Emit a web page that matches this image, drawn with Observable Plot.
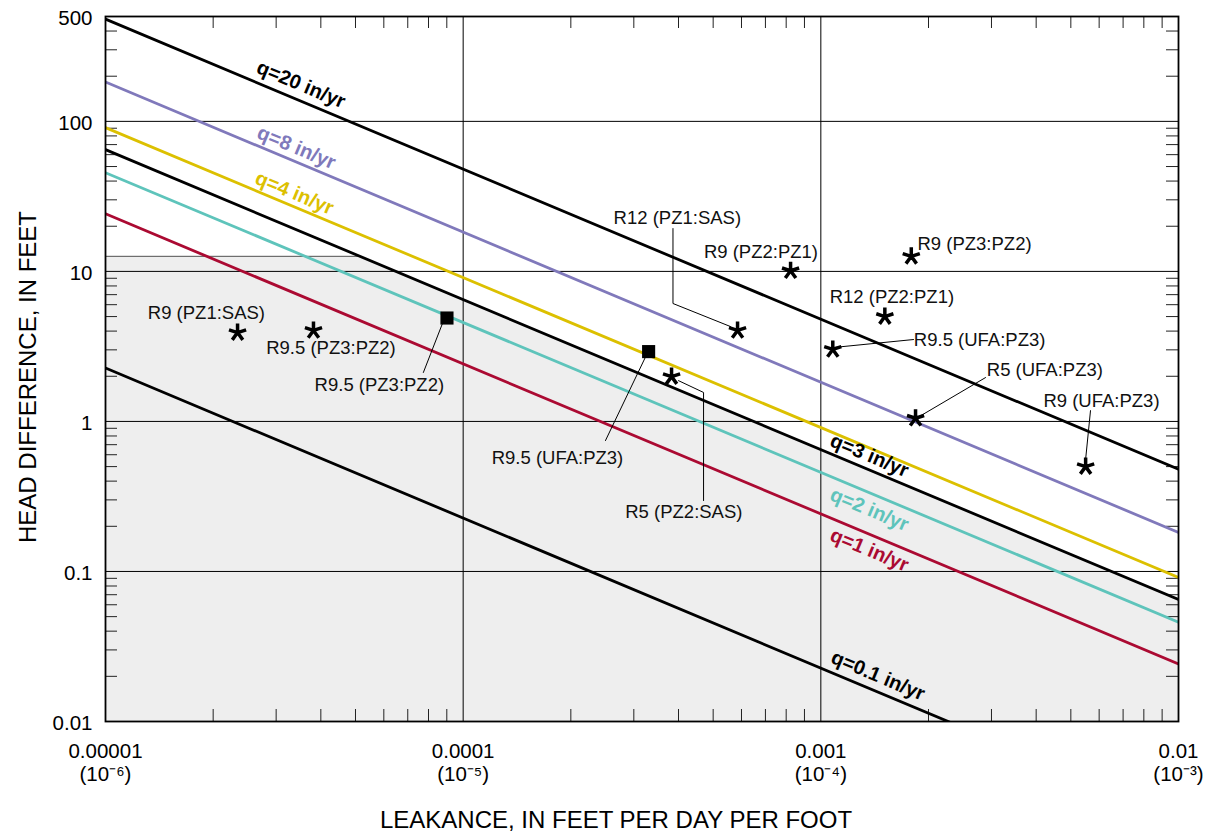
<!DOCTYPE html>
<html><head><meta charset="utf-8">
<script src="https://cdn.jsdelivr.net/npm/d3@7"></script>
<script src="https://cdn.jsdelivr.net/npm/@observablehq/plot@0.6"></script>
<style>body{margin:0;background:#fff} #chart svg{font-family:"Liberation Sans",Arial,sans-serif;background:#fff}</style>
</head><body><div id="chart"></div>
<script>
// ---- Data ----
const qNames      = ["q=20 in/yr","q=8 in/yr","q=4 in/yr","q=3 in/yr","q=2 in/yr","q=1 in/yr","q=0.1 in/yr"];
const qHeadLeft   = [480, 183, 90.8, 64.8, 45.5, 24.2, 2.27];          // head at leakance 1e-5
const qHeadRight  = [0.48, 0.182, 0.0912, 0.065, 0.0459, 0.0242, 0.00227]; // head at leakance 1e-2
const qEndsL      = [1e-5, 1e-2];
const qLabelL     = [3.52e-5, 3.42e-5, 3.376e-5, 1.368e-3, 1.368e-3, 1.368e-3, 1.445e-3];
const qLabelH     = [176, 66.9, 33.3, 0.5925, 0.2587, 0.139, 0.0202];
const qColors     = ["#000000","#8079bb","#dcc000","#000000","#5ec4bb","#ab0a32","#000000"];

const ptLabel = ["R9 (PZ1:SAS)","R9.5 (PZ3:PZ2)","R9.5 (PZ3:PZ2)","R9.5 (UFA:PZ3)","R5 (PZ2:SAS)","R12 (PZ1:SAS)",
                 "R9 (PZ2:PZ1)","R9 (PZ3:PZ2)","R12 (PZ2:PZ1)","R9.5 (UFA:PZ3)","R5 (UFA:PZ3)","R9 (UFA:PZ3)"];
const ptL     = [2.34e-5, 3.815e-5, 9.01e-5, 3.30e-4, 3.825e-4, 5.85e-4, 8.23e-4, 1.79e-3, 1.51e-3, 1.08e-3, 1.84e-3, 5.50e-3];
const ptH     = [3.91, 4.04, 4.89, 2.92, 1.99, 4.04, 10.1, 12.6, 5.0, 3.02, 1.05, 0.50];
const ptShape = ["asterisk","asterisk","square","square","asterisk","asterisk","asterisk","asterisk","asterisk","asterisk","asterisk","asterisk"];
const ptLabL  = [1.915e-5, 4.27e-5, 5.83e-5, 1.835e-4, 4.14e-4, 3.97e-4, 6.80e-4, 2.69e-3, 1.58e-3, 2.78e-3, 4.23e-3, 6.09e-3];
const ptLabH  = [5.24, 3.06, 1.735, 0.574, 0.247, 22.7, 13.4, 15.2, 6.75, 3.49, 2.20, 1.37];

const leaderId = [2,2, 3,3, 4,4,4, 5,5,5, 9,9, 10,10, 11,11];
const leaderL  = [8.75e-5,7.74e-5, 3.23e-4,2.50e-4, 4.0e-4,4.70e-4,4.70e-4, 3.86e-4,3.86e-4,5.59e-4, 1.085e-3,1.816e-3, 1.863e-3,2.887e-3, 5.675e-3,5.495e-3];
const leaderH  = [4.49,2.12, 2.67,0.746, 1.87,1.56,0.297, 19.3,6.11,4.29, 3.11,3.515, 1.06,1.96, 1.18,0.549];

const shadeL   = [1e-5, 5.15e-5, 1e-2];
const shadeTop = [12.6, 12.6, 0.065];

const xTicks = [1e-5, 1e-4, 1e-3, 1e-2];
const xTickLabels = ["0.00001\n(10⁻⁶)", "0.0001\n(10⁻⁵)", "0.001\n(10⁻⁴)", "0.01\n(10⁻³)"];
const yTicks = [500, 100, 10, 1, 0.1, 0.01];
const yTickLabels = ["500","100","10","1","0.1","0.01"];
const xGrid = [1e-4, 1e-3];
const yGrid = [100, 10, 1, 0.1];
const xMinor = [2,3,4,5,6,7,8,9].flatMap(m => [1e-5,1e-4,1e-3].map(d => m*d));
const yMinor = [2,3,4,5,6,7,8,9].flatMap(m => [0.01,0.1,1,10,100].map(d => m*d)).filter(v => v < 500);
const xTitle = "LEAKANCE, IN FEET PER DAY PER FOOT";
const yTitle = "HEAD DIFFERENCE, IN FEET";

// ---- Build tables ----
const qLines = qNames.flatMap((name, i) => qEndsL.map((L, j) => ({name, i, L, h: j === 0 ? qHeadLeft[i] : qHeadRight[i]})));
const qLabels = qNames.map((name, i) => ({name, i, L: qLabelL[i], h: qLabelH[i]}));
const points = ptLabel.map((label, i) => ({label, L: ptL[i], h: ptH[i], shape: ptShape[i], lx: ptLabL[i], ly: ptLabH[i]}));
const leaders = leaderId.map((id, i) => ({id, L: leaderL[i], h: leaderH[i]}));
const shade = shadeL.map((L, i) => ({L, top: shadeTop[i]}));
const yTickRows = yTicks.map((v, i) => ({v, label: yTickLabels[i]}));

const W = 1207, H = 834, mT = 16, mB = 113, mL = 105, mR = 29;
const frameH = H - mT - mB, frameW = W - mL - mR;
const angle = Math.atan((frameH / Math.log10(500/0.01)) / (frameW / 3)) * 180 / Math.PI;

const asterisk = {
  draw(ctx, size) {
    const r = Math.sqrt(size / Math.PI);
    for (let k = 0; k < 5; k++) {
      const a = -Math.PI / 2 + k * 2 * Math.PI / 5;
      ctx.moveTo(0, 0);
      ctx.lineTo(r * Math.cos(a), r * Math.sin(a));
    }
  }
};

const chart = Plot.plot({
  width: W, height: H,
  marginTop: mT, marginBottom: mB, marginLeft: mL, marginRight: mR,
  style: {fontFamily: "Liberation Sans, Arial, sans-serif", color: "#000", background: "#fff"},
  x: {type: "log", domain: [1e-5, 1e-2], axis: null},
  y: {type: "log", domain: [0.01, 500], axis: null},
  marks: [
    Plot.areaY(shade, {x: "L", y1: 0.01, y2: "top", fill: "#eeeeee"}),
    Plot.line(shade.slice(0, 2), {x: "L", y: "top", stroke: "#555", strokeWidth: 1}),
    Plot.ruleY(yGrid, {stroke: "#000", strokeWidth: 1}),
    Plot.ruleX(xGrid, {stroke: "#000", strokeWidth: 1}),
    Plot.ruleX(xMinor, {insetTop: frameH - 12, stroke: "#222", strokeWidth: 1}),
    Plot.ruleX(xMinor, {insetBottom: frameH - 12, stroke: "#222", strokeWidth: 1}),
    Plot.ruleY(yMinor, {insetRight: frameW - 12, stroke: "#222", strokeWidth: 1}),
    Plot.ruleY(yMinor, {insetLeft: frameW - 12, stroke: "#222", strokeWidth: 1}),
    Plot.line(qLines, {x: "L", y: "h", z: "name", stroke: d => qColors[d.i], strokeWidth: 2.8, clip: true}),
    Plot.text(qLabels, {x: "L", y: "h", text: "name", fill: d => qColors[d.i], rotate: angle,
      fontSize: 20, fontWeight: "bold"}),
    Plot.line(leaders, {x: "L", y: "h", z: "id", stroke: "#000", strokeWidth: 1}),
    Plot.dot(points.filter(d => d.shape === "asterisk"), {x: "L", y: "h", symbol: asterisk, r: 9,
      fill: "none", stroke: "#000", strokeWidth: 3.5}),
    Plot.dot(points.filter(d => d.shape === "square"), {x: "L", y: "h", symbol: "square", r: 7.4,
      fill: "#000", stroke: "none"}),
    Plot.text(points, {x: "lx", y: "ly", text: "label", fontSize: 18.5, fill: "#111"}),
    Plot.frame({stroke: "#000", strokeWidth: 1.8}),
    Plot.text(yTickRows, {x: () => 1e-5, y: "v", text: "label", textAnchor: "end", dx: -13, dy: 2,
      fontSize: 20.5, fill: "#000"}),
    Plot.axisX(xTicks, {tickSize: 0, tickPadding: 20, fontSize: 20.5, lineHeight: 1.12, label: null,
      tickFormat: d => xTickLabels[xTicks.indexOf(d)]}),
    Plot.text([yTitle], {frameAnchor: "left", textAnchor: "middle", lineAnchor: "middle", rotate: -90,
      dx: -77, dy: 8, fontSize: 24, fill: "#000"}),
    Plot.text([xTitle], {frameAnchor: "bottom", textAnchor: "middle", lineAnchor: "middle",
      dx: -26, dy: 99, fontSize: 24, fill: "#000"})
  ]
});
document.getElementById("chart").appendChild(chart);
</script>
</body></html>
